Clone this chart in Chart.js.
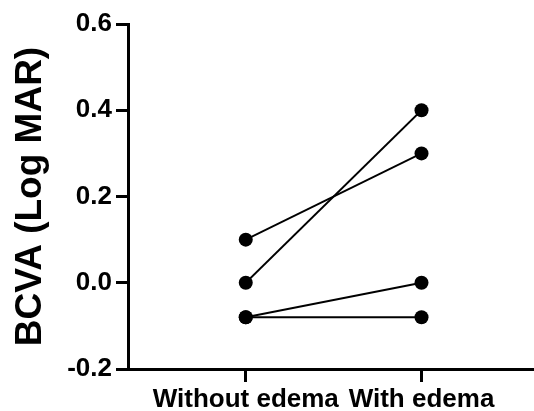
<!DOCTYPE html>
<html>
<head>
<meta charset="utf-8">
<script src="https://cdn.jsdelivr.net/npm/chart.js@4/dist/chart.umd.min.js"></script>
<style>
    html, body { margin: 0; padding: 0; background: #fff; }
    #wrap { width: 534px; height: 411px; }
</style>
</head>
<body>
<div id="wrap"><canvas id="bcva-chart"></canvas></div>
<script>
// paired BCVA values, one entry per eye
const categories = ['Without edema', 'With edema'];
const withoutEdema = [0.1, 0.0, -0.08, -0.08];
const withEdema = [0.3, 0.4, 0.0, -0.08];
const yTicks = [-0.2, 0.0, 0.2, 0.4, 0.6];

const datasets = withoutEdema.map(function (v, i) {
    return {
        data: [{ x: 0, y: v }, { x: 1, y: withEdema[i] }],
        borderColor: '#000',
        backgroundColor: '#000',
        borderWidth: 1.8,
        pointRadius: 7,
        pointBorderWidth: 0,
        pointBackgroundColor: '#000',
        showLine: true,
        fill: false
    };
});

const ctx = document.getElementById('bcva-chart').getContext('2d');
new Chart(ctx, {
    type: 'line',
    data: { datasets: datasets },
    options: {
        responsive: true,
        maintainAspectRatio: false,
        animation: false,
        layout: { autoPadding: false, padding: { top: 24, right: 0, bottom: 0, left: 0 } },
        plugins: {
            legend: { display: false },
            tooltip: { enabled: false }
        },
        scales: {
            x: {
                type: 'linear',
                min: -0.67,
                max: 1.64,
                afterBuildTicks: function (scale) {
                    scale.ticks = categories.map(function (c, i) { return { value: i }; });
                },
                afterFit: function (scale) { scale.height = 42; },
                grid: {
                    drawOnChartArea: false,
                    drawTicks: true,
                    tickLength: 13,
                    tickWidth: 3,
                    tickColor: '#000'
                },
                border: { display: true, width: 3, color: '#000' },
                ticks: {
                    color: '#000',
                    padding: 2,
                    maxRotation: 0,
                    autoSkip: false,
                    font: { family: 'Liberation Sans', size: 26, weight: 'bold' },
                    callback: function (value) { return categories[value]; }
                }
            },
            y: {
                type: 'linear',
                min: yTicks[0],
                max: yTicks[yTicks.length - 1],
                afterBuildTicks: function (scale) {
                    scale.ticks = yTicks.map(function (v) { return { value: v }; });
                },
                afterFit: function (scale) { scale.width = 128; },
                grid: {
                    drawOnChartArea: false,
                    drawTicks: true,
                    tickLength: 12,
                    tickWidth: 3,
                    tickColor: '#000'
                },
                border: { display: true, width: 3, color: '#000' },
                ticks: {
                    color: '#000',
                    padding: 4,
                    font: { family: 'Liberation Sans', size: 26, weight: 'bold' },
                    callback: function (value) { return value.toFixed(1); }
                },
                title: {
                    display: true,
                    text: 'BCVA (Log MAR)',
                    color: '#000',
                    padding: { top: 9, bottom: 0 },
                    font: { family: 'Liberation Sans', size: 37, weight: 'bold' }
                }
            }
        }
    }
});
</script>
</body>
</html>
